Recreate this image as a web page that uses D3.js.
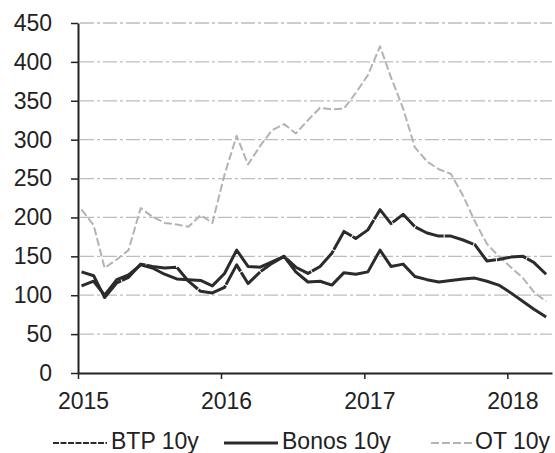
<!DOCTYPE html>
<html>
<head>
<meta charset="utf-8">
<script src="https://cdn.jsdelivr.net/npm/d3@7"></script>
<style>
  body { margin: 0; background: #fff; }
  svg { font-family: "Liberation Sans", Arial, sans-serif; }
</style>
</head>
<body>
<svg width="555" height="453"></svg>
<script>
// monthly observations, Jan 2015 .. Apr 2018
const months = d3.range(40).map(i => new Date(2015, i, 10));

const btp = [130, 125, 97, 116, 123, 140, 137, 135, 136, 118, 105, 103,
  110, 139, 115, 130, 141, 150, 136, 128, 137, 154, 182, 173,
  184, 210, 192, 204, 188, 180, 176, 176, 171, 165, 144, 146,
  149, 150, 142, 127];
const bonos = [112, 118, 100, 120, 126, 139, 135, 127, 121, 120, 119, 112,
  128, 158, 137, 136, 143, 150, 130, 117, 118, 113, 129, 127,
  130, 158, 137, 140, 124, 120, 117, 119, 121, 122, 118, 113,
  103, 92, 82, 72];
const ot = [210, 190, 135, 146, 158, 212, 201, 193, 191, 188, 203, 193,
  255, 305, 268, 292, 312, 320, 308, 325, 341, 339, 340, 360,
  383, 420, 380, 340, 290, 272, 262, 256, 228, 195, 166, 150,
  136, 122, 104, 92];

const yTicks = [0, 50, 100, 150, 200, 250, 300, 350, 400, 450];
const xTicks = [2015, 2016, 2017, 2018].map(y => new Date(y, 0, 1));

const seriesNames = ["BTP 10y", "Bonos 10y", "OT 10y"];

const svg = d3.select("svg");
svg.append("rect").attr("width", 555).attr("height", 453).attr("fill", "#fff");

const x = d3.scaleTime()
  .domain([new Date(2015, 0, 1), new Date(2018, 3, 25)])
  .range([78, 552]);

const y = d3.scaleLinear()
  .domain([0, 450])
  .range([373, 23]);

// gridlines
svg.append("g")
  .selectAll("line")
  .data(yTicks.filter(d => d > 0))
  .join("line")
  .attr("x1", 80)
  .attr("x2", 552)
  .attr("y1", d => y(d))
  .attr("y2", d => y(d))
  .attr("stroke", "#bdbdbd")
  .attr("stroke-width", 1.3)
  .attr("stroke-dasharray", "14,3,3,3");

const line = d3.line()
  .x((d, i) => x(months[i]))
  .y(d => y(d));

const series = [
  { name: seriesNames[0], values: btp, color: "#2b2b2b", width: 3, dash: "30,1" },
  { name: seriesNames[1], values: bonos, color: "#2b2b2b", width: 3, dash: null },
  { name: seriesNames[2], values: ot, color: "#b3b3b3", width: 2, dash: "8,3" }
];

// draw OT first so dark lines stay on top
[series[2], series[0], series[1]].forEach(s => {
  svg.append("path")
    .datum(s.values)
    .attr("fill", "none")
    .attr("stroke", s.color)
    .attr("stroke-width", s.width)
    .attr("stroke-linejoin", "round")
    .attr("stroke-dasharray", s.dash)
    .attr("d", line);
});

// axes
const yAxis = svg.append("g")
  .attr("transform", "translate(78,0)")
  .call(d3.axisLeft(y).tickValues(yTicks).tickSize(7).tickSizeOuter(0).tickPadding(19));

const xAxis = svg.append("g")
  .attr("transform", `translate(0,${y(0)})`)
  .call(d3.axisBottom(x).tickValues(xTicks).tickFormat(d3.timeFormat("%Y"))
    .tickSize(6).tickSizeOuter(0).tickPadding(14));

[yAxis, xAxis].forEach(ax => {
  ax.select(".domain").attr("stroke", "#222").attr("stroke-width", 2);
  ax.selectAll(".tick line").attr("stroke", "#222").attr("stroke-width", 1.5);
  ax.selectAll("text")
    .attr("fill", "#222")
    .style("font-size", "23px")
    .style("font-family", "'Liberation Sans', Arial, sans-serif");
});
xAxis.selectAll("text").attr("dx", 5);

// legend
const legendX = [53, 224, 431];
const legend = svg.append("g")
  .selectAll("g")
  .data(series)
  .join("g")
  .attr("transform", (d, i) => `translate(${legendX[i]},443)`);

legend.append("line")
  .attr("x1", 0)
  .attr("x2", (d, i) => i === 2 ? 42 : 54)
  .attr("stroke", d => d.color)
  .attr("stroke-width", (d, i) => i === 0 ? 2 : d.width)
  .attr("stroke-dasharray", (d, i) => i === 0 ? "6,1.5" : d.dash);

legend.append("text")
  .attr("x", (d, i) => i === 2 ? 44 : 58)
  .attr("y", 6)
  .attr("fill", "#222")
  .style("font-size", "23px")
  .text(d => d.name);
</script>
</body>
</html>
